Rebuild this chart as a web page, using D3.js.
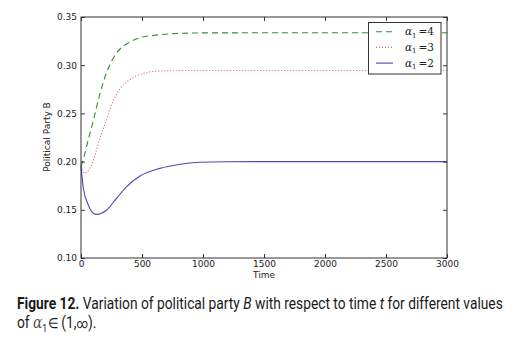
<!DOCTYPE html>
<html><head><meta charset="utf-8">
<script src="https://cdn.jsdelivr.net/npm/d3@7"></script>
<style>body{margin:0;background:#fff}svg{display:block}</style>
</head><body>
<svg id="c" width="517" height="360"></svg>
<script>
const xTicks = [0, 500, 1000, 1500, 2000, 2500, 3000];
const yTicks = [0.10, 0.15, 0.20, 0.25, 0.30, 0.35];
const seriesLabels = ["4", "3", "2"];
const tGreen = [0, 25, 50, 100, 150, 200, 250, 300, 400, 500, 600, 800, 1000, 1500, 3000];
const vGreen = [0.195, 0.205, 0.218, 0.242, 0.268, 0.289, 0.304, 0.314, 0.324, 0.329, 0.331, 0.333, 0.3335, 0.3336, 0.3336];
const tRed = [0, 15, 35, 60, 100, 150, 200, 250, 300, 400, 500, 600, 800, 1000, 3000];
const vRed = [0.195, 0.190, 0.188, 0.191, 0.201, 0.222, 0.240, 0.259, 0.272, 0.285, 0.291, 0.2935, 0.2945, 0.2945, 0.2945];
const tBlue = [0, 20, 60, 100, 128, 210, 292, 374, 484, 648, 800, 975, 1200, 1500, 3000];
const vBlue = [0.195, 0.172, 0.155, 0.1465, 0.1453, 0.1498, 0.162, 0.174, 0.185, 0.193, 0.197, 0.1993, 0.1999, 0.2, 0.2];

const svg = d3.select("#c");
const L = 81, R = 447, T = 17, B = 258;
const x = d3.scaleLinear().domain([0, 3000]).range([L, R]);
const y = d3.scaleLinear().domain([0.10, 0.35]).range([B, T]);

const series = [
  {t: tGreen, v: vGreen, color: "#2f8f2f", dash: "6,4", label: seriesLabels[0]},
  {t: tRed, v: vRed, color: "#e0607a", dash: "1,2", label: seriesLabels[1]},
  {t: tBlue, v: vBlue, color: "#4a4ab8", dash: null, label: seriesLabels[2]}
];
const line = d3.line().x(d => x(d[0])).y(d => y(d[1])).curve(d3.curveMonotoneX);
const g = svg.append("g");
series.forEach(s => {
  g.append("path").datum(s.t.map((t, i) => [t, s.v[i]]))
    .attr("d", line).attr("fill", "none").attr("stroke", s.color)
    .attr("stroke-width", 1.1).attr("stroke-dasharray", s.dash);
});

svg.append("rect").attr("x", L).attr("y", T).attr("width", R - L).attr("height", B - T)
  .attr("fill", "none").attr("stroke", "#333").attr("stroke-width", 1);

const font = "DejaVu Sans, sans-serif";
const ax = svg.append("g").attr("transform", `translate(0,${B})`)
  .call(d3.axisBottom(x).tickValues(xTicks).tickSize(-4).tickPadding(3).tickFormat(d3.format("d")));
const axT = svg.append("g").attr("transform", `translate(0,${T})`)
  .call(d3.axisTop(x).tickValues(xTicks).tickSize(-4).tickFormat(""));
const ay = svg.append("g").attr("transform", `translate(${L},0)`)
  .call(d3.axisLeft(y).tickValues(yTicks).tickSize(-4).tickPadding(4).tickFormat(d3.format(".2f")));
const ayR = svg.append("g").attr("transform", `translate(${R},0)`)
  .call(d3.axisRight(y).tickValues(yTicks).tickSize(-4).tickFormat(""));
[ax, axT, ay, ayR].forEach(a => {
  a.select(".domain").remove();
  a.selectAll("line").attr("stroke", "#333");
  a.selectAll("text").attr("font-family", font).attr("font-size", 9).attr("fill", "#222");
});

svg.append("text").attr("x", 264).attr("y", 278).attr("text-anchor", "middle")
  .attr("font-family", font).attr("font-size", 9).attr("fill", "#222").text("Time");
svg.append("text").attr("transform", "translate(50,137) rotate(-90)").attr("text-anchor", "middle")
  .attr("font-family", font).attr("font-size", 9).attr("fill", "#222").text("Political Party B");

const lg = svg.append("g");
lg.append("rect").attr("x", 368.5).attr("y", 22.5).attr("width", 72.5).attr("height", 51.5)
  .attr("fill", "#fff").attr("stroke", "#333").attr("stroke-width", 1);
series.forEach((s, i) => {
  const yy = 31.7 + i * 15.7;
  lg.append("line").attr("x1", 376).attr("x2", 393).attr("y1", yy).attr("y2", yy)
    .attr("stroke", s.color).attr("stroke-width", 1.1).attr("stroke-dasharray", s.dash);
  const tx = lg.append("text").attr("x", 405).attr("y", yy + 3.5)
    .attr("font-family", "DejaVu Serif, serif").attr("font-size", 10.5).attr("fill", "#222");
  tx.append("tspan").attr("font-style", "italic").text("α");
  tx.append("tspan").attr("font-size", 7).attr("dy", 2.5).text("1");
  tx.append("tspan").attr("dy", -2.5).attr("dx", 2).text("=" + s.label);
});

const capG = svg.append("g");
const cap = capG.append("text").attr("x", 0).attr("y", 308.7)
  .attr("font-family", "Roboto, sans-serif").attr("font-size", 16).attr("fill", "#1a1a1a");
cap.append("tspan").attr("font-weight", "bold").text("Figure 12.");
cap.append("tspan").text(" Variation of political party ");
cap.append("tspan").attr("font-style", "italic").text("B");
cap.append("tspan").text(" with respect to time ");
cap.append("tspan").attr("font-style", "italic").text("t");
cap.append("tspan").text(" for different values");
const cap2 = capG.append("text").attr("x", 0).attr("y", 327.7)
  .attr("font-family", "Roboto, sans-serif").attr("font-size", 16).attr("fill", "#1a1a1a");
cap2.append("tspan").text("of ");
cap2.append("tspan").attr("font-style", "italic").attr("font-family", "DejaVu Serif, serif").attr("fill", "#555").text("α");
cap2.append("tspan").attr("font-size", 10).attr("dy", 4).text("1");
cap2.append("tspan").attr("dy", -4).attr("dx", 1).attr("font-size", 14).text("∈ ");
cap2.append("tspan").text("(1,");
cap2.append("tspan").attr("font-size", 13).text("∞");
cap2.append("tspan").text(").");
const w = cap.node().getComputedTextLength();
const sx = 486 / w;
capG.attr("transform", `translate(17,0) scale(${sx},1)`);
</script>
</body></html>
